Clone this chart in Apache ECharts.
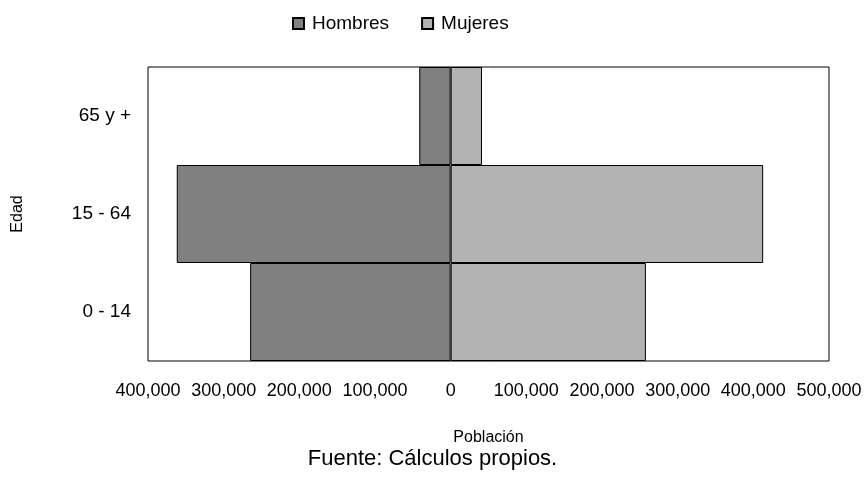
<!DOCTYPE html>
<html>
<head>
<meta charset="utf-8">
<script src="https://cdn.jsdelivr.net/npm/echarts@6/dist/echarts.min.js"></script>
<style>
  html, body { margin: 0; padding: 0; background: #fff; }
  #chart { width: 865px; height: 503px; }
</style>
</head>
<body>
<div id="chart"></div>
<script>
// Age groups, bottom to top
const ageGroups = ['0 - 14', '15 - 64', '65 y +'];
// Population by sex (persons)
const hombres = [265000, 362000, 41500];
const mujeres = [258000, 413000, 41400];
// Population axis range and step
const axisMin = -400000;
const axisMax = 500000;
const axisStep = 100000;

const fmt = v => Math.abs(v).toLocaleString('en-US');
const font = 'Liberation Sans, Arial, sans-serif';

const chart = echarts.init(document.getElementById('chart'), null, { renderer: 'canvas' });
chart.setOption({
  animation: false,
  backgroundColor: '#fff',
  textStyle: { fontFamily: font, color: '#000' },
  legend: {
    top: 14,
    left: 292,
    padding: 0,
    itemWidth: 11,
    itemHeight: 11,
    itemGap: 32,
    icon: 'rect',
    textStyle: { fontSize: 19, color: '#000', fontFamily: font, padding: [0, 0, 0, 3] },
    data: ['Hombres', 'Mujeres']
  },
  grid: {
    left: 148, right: 36, top: 67, bottom: 142,
    show: true, borderColor: '#000', borderWidth: 1, backgroundColor: 'transparent'
  },
  xAxis: {
    type: 'value',
    min: axisMin, max: axisMax, interval: axisStep,
    name: 'Población',
    nameLocation: 'middle',
    nameGap: 69,
    nameTextStyle: { fontSize: 16, color: '#000', fontFamily: font },
    axisLine: { show: false },
    axisTick: { show: false },
    splitLine: { show: false },
    axisLabel: { formatter: fmt, fontSize: 18, color: '#000', margin: 21, fontFamily: font }
  },
  yAxis: {
    type: 'category',
    data: ageGroups,
    name: 'Edad',
    nameLocation: 'middle',
    nameRotate: 90,
    nameGap: 122,
    nameTextStyle: { fontSize: 16, color: '#000', fontFamily: font },
    axisLine: { show: false },
    axisTick: { show: false },
    axisLabel: { fontSize: 19, color: '#000', margin: 17, fontFamily: font }
  },
  series: [
    {
      name: 'Hombres',
      type: 'bar',
      data: hombres.map(v => -v),
      barCategoryGap: '0%',
      barGap: '-100%',
      itemStyle: { color: '#808080', borderColor: '#000', borderWidth: 1 }
    },
    {
      name: 'Mujeres',
      type: 'bar',
      data: mujeres,
      barCategoryGap: '0%',
      barGap: '-100%',
      itemStyle: { color: '#b3b3b3', borderColor: '#000', borderWidth: 1 }
    }
  ],
  graphic: [{
    type: 'text',
    left: 'center',
    top: 448,
    style: { text: 'Fuente: Cálculos propios.', fontSize: 22, fill: '#000', fontFamily: font }
  }]
});
</script>
</body>
</html>
